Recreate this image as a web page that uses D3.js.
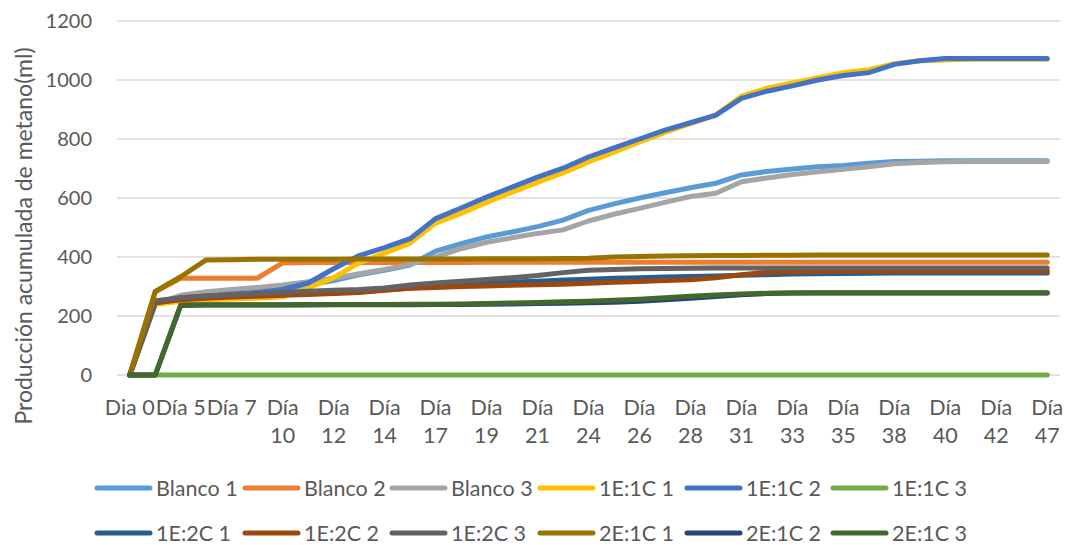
<!DOCTYPE html>
<html><head><meta charset="utf-8">
<script src="https://cdn.jsdelivr.net/npm/d3@7"></script>
<style>body{margin:0;background:#fff;} svg{display:block;font-family:Lato,"Open Sans",sans-serif;}</style>
</head><body>
<svg id="chart" width="1067" height="545"></svg>
<script>
const categories = ["Dia 0","Día 3","Día 5","Día 6","Día 7","Día 8","Día 10","Día 11","Día 12","Día 13","Día 14","Día 15","Día 17","Día 18","Día 19","Día 20","Día 21","Día 22","Día 24","Día 25","Día 26","Día 27","Día 28","Día 29","Día 31","Día 32","Día 33","Día 34","Día 35","Día 36","Día 38","Día 39","Día 40","Día 41","Día 42","Día 45","Día 47"];
const yTicks = [0,200,400,600,800,1000,1200];

const blanco1 = [0,240,255,265,272,280,290,305,320,340,355,373,420,445,468,485,503,525,558,580,600,618,635,650,678,690,698,706,710,718,724,725,726,726,726,726,726];
const blanco2 = [0,282,328,328,328,328,380,381,381,381,381,381,381,381,382,382,382,382,382,382,382,382,382,382,382,382,382,382,382,382,382,382,382,382,382,382,382];
const blanco3 = [0,240,270,282,290,297,305,316,328,343,358,375,400,428,450,465,480,492,522,545,565,585,605,616,655,668,680,689,697,706,716,720,723,724,724,724,724];
const e1c1_1 = [0,240,250,255,258,260,265,295,330,380,413,447,515,548,585,620,653,685,722,755,790,822,852,881,945,972,990,1008,1025,1035,1055,1065,1068,1070,1070,1070,1070];
const e1c1_2 = [0,245,262,268,275,280,290,312,360,405,432,462,530,566,603,637,671,701,739,770,800,830,855,881,938,962,980,1000,1015,1025,1053,1065,1073,1073,1073,1073,1073];
const e1c1_3 = [0,0,0,0,0,0,0,0,0,0,0,0,0,0,0,0,0,0,0,0,0,0,0,0,0,0,0,0,0,0,0,0,0,0,0,0,0];
const e1c2_1 = [0,245,258,263,267,270,272,275,278,282,288,295,300,305,310,315,318,322,325,328,330,332,334,336,338,340,342,343,344,345,346,346,346,346,346,346,346];
const e1c2_2 = [0,245,255,260,264,267,270,273,276,280,287,294,297,300,302,304,306,308,311,314,317,320,323,330,340,348,350,351,352,352,352,352,352,352,352,352,352];
const e1c2_3 = [0,252,262,268,272,276,280,284,287,290,295,305,312,318,324,330,337,347,355,358,360,361,362,363,363,363,363,363,363,363,363,363,363,363,363,363,363];
const e2c1_1 = [0,283,333,390,391,392,392,392,392,393,393,393,393,393,394,394,394,395,396,400,402,403,404,405,405,406,406,407,407,407,407,407,407,407,407,407,407];
const e2c1_2 = [0,0,236,237,237,237,237,237,238,238,238,238,239,239,240,241,242,243,245,247,250,255,260,266,272,276,278,278,278,278,278,278,278,278,278,278,278];
const e2c1_3 = [0,0,237,238,238,238,238,239,239,239,239,240,240,241,242,244,246,248,250,253,257,262,267,271,275,277,278,279,279,279,279,279,279,279,279,279,279];

const seriesNames = ["Blanco 1","Blanco 2","Blanco 3","1E:1C 1","1E:1C 2","1E:1C 3","1E:2C 1","1E:2C 2","1E:2C 3","2E:1C 1","2E:1C 2","2E:1C 3"];
const seriesValues = [blanco1,blanco2,blanco3,e1c1_1,e1c1_2,e1c1_3,e1c2_1,e1c2_2,e1c2_3,e2c1_1,e2c1_2,e2c1_3];
const seriesColors = ["#5B9BD5","#ED7D31","#A5A5A5","#FFC000","#4472C4","#70AD47","#255E91","#9E480E","#636363","#997300","#264478","#43682B"];

(function() {
const svg = d3.select("#chart");
const pl = 117, pr = 1060, pt = 21, pb = 375;
const x = d3.scalePoint().domain(categories).range([pl, pr]).padding(0.5);
const y = d3.scaleLinear().domain([0,1200]).range([pb, pt]);
const textColor = "#595959";

svg.append("g").selectAll("line").data(yTicks).join("line")
  .attr("x1", pl).attr("x2", pr)
  .attr("y1", d => y(d)).attr("y2", d => y(d))
  .attr("stroke", "#D9D9D9").attr("stroke-width", 1.5);

const yAxis = svg.append("g").attr("transform", `translate(${pl},0)`)
  .call(d3.axisLeft(y).tickValues(yTicks).tickFormat(d3.format("d")).tickSize(0).tickPadding(25));
yAxis.select(".domain").remove();
yAxis.selectAll("text").attr("fill", textColor).style("font-size", "20px").style("font-family", "Lato");

const shown = categories.filter((c, i) => i % 2 === 0);
const xl = svg.append("g").selectAll("text").data(shown).join("text")
  .attr("x", d => x(d)).attr("text-anchor", "middle")
  .attr("fill", textColor).style("font-size", "21.5px");
xl.each(function(d) {
  const parts = d.split(" ");
  const t = d3.select(this);
  if (parts[1].length > 1) {
    t.append("tspan").attr("x", x(d)).attr("y", 415).text(parts[0]);
    t.append("tspan").attr("x", x(d)).attr("y", 443).text(parts[1]);
  } else {
    t.append("tspan").attr("x", x(d)).attr("y", 415).text(d);
  }
});

svg.append("text")
  .attr("transform", "translate(32,236) rotate(-90)")
  .attr("text-anchor", "middle").attr("fill", textColor)
  .style("font-size", "23px")
  .text("Producción acumulada de metano(ml)");

const line = d3.line().x((d, i) => x(categories[i])).y(d => y(d));
svg.append("g").selectAll("path").data(seriesValues).join("path")
  .attr("d", d => line(d))
  .attr("fill", "none")
  .attr("stroke", (d, i) => seriesColors[i])
  .attr("stroke-width", 5)
  .attr("stroke-linejoin", "round")
  .attr("stroke-linecap", "round");

const colX = [97, 245, 392, 540, 687, 833];
const rowY = [488, 533];
const leg = svg.append("g").selectAll("g").data(seriesNames).join("g")
  .attr("transform", (d, i) => `translate(${colX[i % 6]},${rowY[Math.floor(i / 6)]})`);
leg.append("line").attr("x1", 0).attr("x2", 53).attr("y1", 0).attr("y2", 0)
  .attr("stroke", (d, i) => seriesColors[i]).attr("stroke-width", 5).attr("stroke-linecap", "round");
leg.append("text").attr("x", 59).attr("y", 8).attr("fill", textColor)
  .style("font-size", "21.5px").text(d => d);
})();
</script>
</body></html>
